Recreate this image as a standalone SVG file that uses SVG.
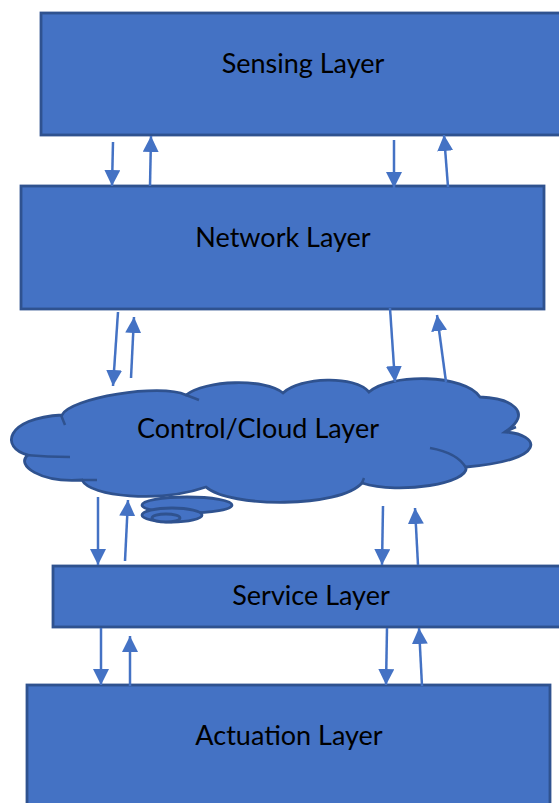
<svg xmlns="http://www.w3.org/2000/svg" width="559" height="803" viewBox="0 0 559 803">
<defs>
<style>
.box{fill:#4472C4;stroke:#2F528F;stroke-width:2.8}
.lbl{font-family:Lato,"Liberation Sans",sans-serif;font-size:27px;fill:#000;text-anchor:middle}
.arr{stroke:#4472C4;stroke-width:2.5;fill:none;marker-end:url(#ah)}
.inner{fill:none;stroke:#2F528F;stroke-width:2.5}
</style>
<marker id="ah" viewBox="0 0 16 16" refX="16" refY="8" markerWidth="16" markerHeight="16" markerUnits="userSpaceOnUse" orient="auto">
<path d="M0,0 L16,8 L0,16 Z" fill="#4472C4"/>
</marker>
</defs>
<rect width="559" height="803" fill="#fff"/>
<g id="sensing">
<rect class="box" x="41" y="13" width="530" height="122"/>
<text class="lbl" x="303" y="73">Sensing Layer</text>
</g>
<g id="network">
<rect class="box" x="21" y="186" width="523" height="123"/>
<text class="lbl" x="283" y="247">Network Layer</text>
</g>
<g id="cloud">
<path class="box" d="M62,415 C70,398 160,383 186,395 C205,380 265,378 283,393 C300,377 355,375 369,392 C390,373 465,374 480,397 C510,398 535,412 505,432 C540,434 550,460 466,467 C470,483 400,495 362,483 C340,508 230,508 206,487 C160,503 90,497 82,480 C40,483 15,465 28,455 C0,448 5,418 62,415 Z"/>
<path class="inner" d="M25,455 Q48,457 70,457 M61,415 L65,425 M430,448 Q458,453 466,468 M505,432 Q511,429 516,427 M82,480 L97,480 M199,400 L186,395 M362,483 L364,478"/>
<ellipse class="box" cx="187" cy="505" rx="45" ry="8"/>
<ellipse class="box" cx="172" cy="515" rx="30" ry="7"/>
<ellipse class="box" cx="166" cy="518" rx="14" ry="4"/>
<text class="lbl" x="258" y="438">Control/Cloud Layer</text>
</g>
<g id="service">
<rect class="box" x="53" y="566" width="520" height="61"/>
<text class="lbl" x="311" y="605">Service Layer</text>
</g>
<g id="actuation">
<rect class="box" x="27" y="685" width="523" height="130"/>
<text class="lbl" x="289" y="745">Actuation Layer</text>
</g>
<g id="connectors">
<line class="arr" x1="113" y1="142" x2="112" y2="186"/>
<line class="arr" x1="150" y1="186" x2="151" y2="136"/>
<line class="arr" x1="394" y1="140" x2="394" y2="188"/>
<line class="arr" x1="448" y1="187" x2="444" y2="135"/>
<line class="arr" x1="118" y1="312" x2="113" y2="386"/>
<line class="arr" x1="131" y1="378" x2="134" y2="317"/>
<line class="arr" x1="390" y1="308" x2="395" y2="382"/>
<line class="arr" x1="446" y1="382" x2="437" y2="315"/>
<line class="arr" x1="98" y1="497" x2="98" y2="565"/>
<line class="arr" x1="125" y1="561" x2="128" y2="500"/>
<line class="arr" x1="383" y1="506" x2="382" y2="565"/>
<line class="arr" x1="418" y1="565" x2="415" y2="508"/>
<line class="arr" x1="101" y1="628" x2="101" y2="685"/>
<line class="arr" x1="130" y1="686" x2="130" y2="636"/>
<line class="arr" x1="387" y1="628" x2="386" y2="685"/>
<line class="arr" x1="422" y1="686" x2="419" y2="628"/>
</g>
</svg>
